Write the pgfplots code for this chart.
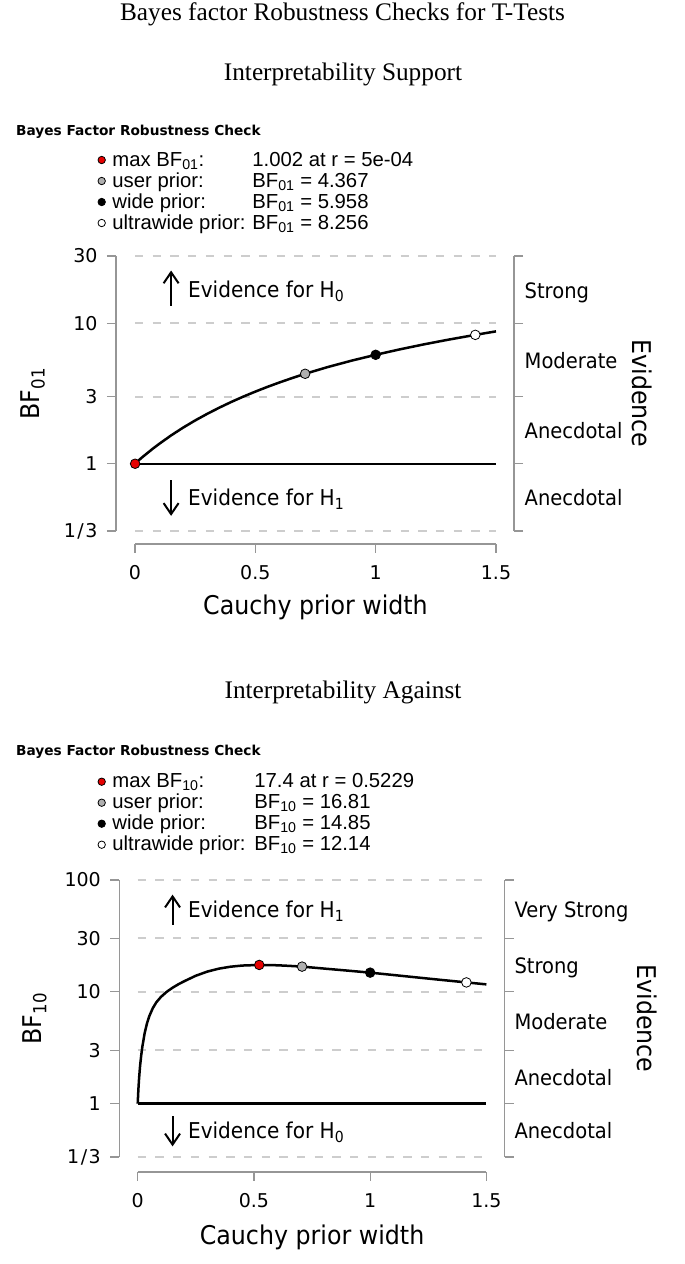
\documentclass[border=0pt]{standalone}
\usepackage{pgfplots}
\pgfplotsset{compat=1.18}
\usepackage{pgfplotstable}
\usepackage{fontspec}
\usetikzlibrary{arrows.meta}
\newfontfamily\djv[FakeStretch=0.92]{DejaVu Sans}
\newfontfamily\djvt{DejaVu Sans}
\newfontfamily\lib{Liberation Sans}
\newfontfamily\tnr{Liberation Serif}
\definecolor{gridgray}{RGB}{205,205,205}
\definecolor{axgray}{RGB}{150,150,150}
\definecolor{ptred}{RGB}{230,0,0}
\definecolor{ptgray}{RGB}{175,175,175}

\pgfplotstableread{
r bf
0 1.000
0.01 1.038
0.025 1.096
0.05 1.188
0.075 1.286
0.1 1.385
0.15 1.593
0.2 1.810
0.25 2.035
0.3 2.267
0.35 2.507
0.4 2.754
0.45 3.006
0.5 3.262
0.55 3.524
0.6 3.788
0.65 4.055
0.707 4.367
0.8 4.871
0.9 5.414
1.0 5.958
1.1 6.510
1.2 7.065
1.3 7.620
1.414 8.256
1.5 8.742
}\tabS

\pgfplotstableread{
r bf
0 1.00
0.003 1.345
0.006 1.69
0.01 2.15
0.015 2.69
0.02 3.23
0.03 4.28
0.04 5.23
0.05 6.07
0.065 7.15
0.08 8.05
0.1 9.01
0.125 10.01
0.15 10.885
0.175 11.685
0.2 12.435
0.25 13.935
0.3 15.185
0.35 16.135
0.4 16.785
0.45 17.185
0.5229 17.4
0.6 17.28
0.65 17.08
0.707 16.81
0.8 16.16
0.9 15.50
1.0 14.85
1.1 14.14
1.2 13.46
1.3 12.82
1.414 12.14
1.5 11.66
}\tabA

\newcommand\tickfont{\djvt\fontsize{19}{19}\selectfont}
\newcommand\labfont{\djv\fontsize{25.8}{27}\selectfont}
\newcommand\evfont{\djv\fontsize{21.8}{24}\selectfont}
\newcommand\bandfont{\djv\fontsize{21.2}{22}\selectfont}
\newcommand\legfont{\lib\fontsize{20.3}{21}\selectfont}
\newcommand\third{1\kern1.5pt/\kern1.5pt3}

\begin{document}
\begin{tikzpicture}[x=1pt,y=1pt]
\useasboundingbox (0,0) rectangle (685,-1264);

\node[anchor=base, font=\tnr\fontsize{25.3}{28}\selectfont] at (342.5,-20.7) {Bayes factor Robustness Checks for T-Tests};
\node[anchor=base, font=\tnr\fontsize{25.3}{28}\selectfont] at (343,-80) {Interpretability Support};
\node[anchor=base, font=\tnr\fontsize{25.3}{28}\selectfont] at (343,-698.3) {Interpretability Against};
\node[anchor=base west, inner sep=0pt, font=\djvt\bfseries\fontsize{13.7}{15}\selectfont] at (16,-135) {Bayes Factor Robustness Check};
\node[anchor=base west, inner sep=0pt, font=\djvt\bfseries\fontsize{13.7}{15}\selectfont] at (16,-755) {Bayes Factor Robustness Check};

% ---------------- top chart ----------------
\begin{axis}[at={(135pt,-531pt)}, anchor=south west, width=361pt, height=275pt,
  scale only axis, ymode=log, xmin=0, xmax=1.5, clip=false,
  ymin=0.33333, ymax=30, ytick={0.33333,1,3,10,30}, yticklabels={\third,1,3,10,30},
  xtick={0,0.5,1,1.5}, xticklabels={0,0.5,1,1.5},
  minor ytick={}, minor xtick={},
  axis x line=bottom, axis y line=left,
  axis x line shift=13pt, axis y line shift=19pt,
  tick align=outside, major tick length=9pt,
  axis line style={axgray, line width=1.2pt, -},
  tick style={axgray, line width=1.2pt},
  tick label style={font=\tickfont, black},
  yticklabel style={xshift=-6pt}, xticklabel style={yshift=-9pt},
  xlabel={Cauchy prior width}, ylabel={BF\textsubscript{01}},
  every axis label/.append style={font=\labfont},
  ylabel style={at={(axis description cs:-0.2825,0.5)}, anchor=center},
  xlabel style={at={(axis description cs:0.5,-0.276)}, anchor=center},
  ymajorgrids, grid style={gridgray, line width=2pt, dash pattern=on 8.3pt off 9.4pt},
  legend style={at={(axis description cs:-0.10249,1.38727)}, anchor=north west,
      draw=none, fill=none, inner sep=0pt, outer sep=0pt, row sep=0pt,
      column sep=7pt, font=\legfont,
      nodes={inner sep=0pt, text height=16.5pt, text depth=4.5pt}},
  legend cell align=left,
  legend image code/.code={\draw[mark size=3.7pt, line width=0.6pt] plot coordinates {(0pt,0pt)};},
]
\addplot[black, line width=2.5pt, line join=round, forget plot] table[x=r,y=bf]{\tabS};
\addplot[black, line width=2.5pt, forget plot] coordinates {(0,1) (1.5,1)};
\addplot[only marks, mark=*, mark size=4.8pt, mark options={fill=ptred, draw=black, line width=0.8pt}] coordinates {(0.0005,1.002)};
\addlegendentry{\makebox[140pt][l]{max BF\textsubscript{01}:}1.002 at r = 5e-04}
\addplot[only marks, mark=*, mark size=4.8pt, mark options={fill=ptgray, draw=black, line width=0.8pt}] coordinates {(0.707,4.367)};
\addlegendentry{\makebox[140pt][l]{user prior:}BF\textsubscript{01} = 4.367}
\addplot[only marks, mark=*, mark size=4.8pt, mark options={fill=black, draw=black, line width=0.8pt}] coordinates {(1,5.958)};
\addlegendentry{\makebox[140pt][l]{wide prior:}BF\textsubscript{01} = 5.958}
\addplot[only marks, mark=*, mark size=4.8pt, mark options={fill=white, draw=black, line width=0.8pt}] coordinates {(1.414,8.256)};
\addlegendentry{\makebox[140pt][l]{ultrawide prior:}BF\textsubscript{01} = 8.256}
\draw[line width=2pt, -{Straight Barb[length=11pt, width=15pt]}] (axis cs:0.15,13.34) -- (axis cs:0.15,23.66);
\node[anchor=base west, inner sep=0pt, font=\evfont, yshift=-8pt] at (axis cs:0.22,17.32) {Evidence for H\textsubscript{0}};
\draw[line width=2pt, -{Straight Barb[length=11pt, width=15pt]}] (axis cs:0.15,0.764) -- (axis cs:0.15,0.427);
\node[anchor=base west, inner sep=0pt, font=\evfont, yshift=-8pt] at (axis cs:0.22,0.57735) {Evidence for H\textsubscript{1}};
\end{axis}

\begin{axis}[at={(135pt,-531pt)}, anchor=south west, width=361pt, height=275pt,
  scale only axis, ymode=log, xmin=0, xmax=1.5, clip=false,
  ymin=0.33333, ymax=30, ytick={0.33333,1,3,10,30}, yticklabels={},
  minor ytick={}, axis x line=none, axis y line=right, axis y line shift=18pt,
  tick align=outside, major tick length=9pt,
  axis line style={axgray, line width=1.2pt, -},
  tick style={axgray, line width=1.2pt}]
\addplot[draw=none, forget plot] coordinates {(0,1)};
\node[anchor=base west, inner sep=0pt, font=\bandfont, yshift=-8.5pt] at (axis cs:1.6184,17.32) {Strong};
\node[anchor=base west, inner sep=0pt, font=\bandfont, yshift=-8.5pt] at (axis cs:1.6184,5.4772) {Moderate};
\node[anchor=base west, inner sep=0pt, font=\bandfont, yshift=-8.5pt] at (axis cs:1.6184,1.7321) {Anecdotal};
\node[anchor=base west, inner sep=0pt, font=\bandfont, yshift=-8.5pt] at (axis cs:1.6184,0.57735) {Anecdotal};
\node[rotate=-90, inner sep=0pt, font=\labfont] at (axis cs:2.1054,3.1623) {Evidence};
\end{axis}

% ---------------- bottom chart ----------------
\begin{axis}[at={(137.7pt,-1157pt)}, anchor=south west, width=348.7pt, height=277pt,
  scale only axis, ymode=log, xmin=0, xmax=1.5, clip=false,
  ymin=0.33333, ymax=100, ytick={0.33333,1,3,10,30,100}, yticklabels={\third,1,3,10,30,100},
  xtick={0,0.5,1,1.5}, xticklabels={0,0.5,1,1.5},
  minor ytick={}, minor xtick={},
  axis x line=bottom, axis y line=left,
  axis x line shift=15pt, axis y line shift=18.4pt,
  tick align=outside, major tick length=9pt,
  axis line style={axgray, line width=1.2pt, -},
  tick style={axgray, line width=1.2pt},
  tick label style={font=\tickfont, black},
  yticklabel style={xshift=-6pt}, xticklabel style={yshift=-9pt},
  xlabel={Cauchy prior width}, ylabel={BF\textsubscript{10}},
  every axis label/.append style={font=\labfont},
  ylabel style={at={(axis description cs:-0.2955,0.5)}, anchor=center},
  xlabel style={at={(axis description cs:0.5,-0.289)}, anchor=center},
  ymajorgrids, grid style={gridgray, line width=2pt, dash pattern=on 8.3pt off 9.4pt},
  legend style={at={(axis description cs:-0.11385,1.39278)}, anchor=north west,
      draw=none, fill=none, inner sep=0pt, outer sep=0pt, row sep=0pt,
      column sep=7pt, font=\legfont,
      nodes={inner sep=0pt, text height=16.5pt, text depth=4.5pt}},
  legend cell align=left,
  legend image code/.code={\draw[mark size=3.7pt, line width=0.6pt] plot coordinates {(0pt,0pt)};},
]
\addplot[black, line width=2.5pt, line join=round, forget plot] table[x=r,y=bf]{\tabA};
\addplot[black, line width=2.5pt, forget plot] coordinates {(0,1) (1.5,1)};
\addplot[only marks, mark=*, mark size=4.8pt, mark options={fill=ptred, draw=black, line width=0.8pt}] coordinates {(0.5229,17.4)};
\addlegendentry{\makebox[142pt][l]{max BF\textsubscript{10}:}17.4 at r = 0.5229}
\addplot[only marks, mark=*, mark size=4.8pt, mark options={fill=ptgray, draw=black, line width=0.8pt}] coordinates {(0.707,16.81)};
\addlegendentry{\makebox[142pt][l]{user prior:}BF\textsubscript{10} = 16.81}
\addplot[only marks, mark=*, mark size=4.8pt, mark options={fill=black, draw=black, line width=0.8pt}] coordinates {(1,14.85)};
\addlegendentry{\makebox[142pt][l]{wide prior:}BF\textsubscript{10} = 14.85}
\addplot[only marks, mark=*, mark size=4.8pt, mark options={fill=white, draw=black, line width=0.8pt}] coordinates {(1.414,12.14)};
\addlegendentry{\makebox[142pt][l]{ultrawide prior:}BF\textsubscript{10} = 12.14}
\draw[line width=2pt, -{Straight Barb[length=11pt, width=15pt]}] (axis cs:0.15,39.9) -- (axis cs:0.15,74);
\node[anchor=base west, inner sep=0pt, font=\evfont, yshift=-8pt] at (axis cs:0.216,54.772) {Evidence for H\textsubscript{1}};
\draw[line width=2pt, -{Straight Barb[length=11pt, width=15pt]}] (axis cs:0.15,0.77) -- (axis cs:0.15,0.415);
\node[anchor=base west, inner sep=0pt, font=\evfont, yshift=-8pt] at (axis cs:0.216,0.57735) {Evidence for H\textsubscript{0}};
\end{axis}

\begin{axis}[at={(137.7pt,-1157pt)}, anchor=south west, width=348.7pt, height=277pt,
  scale only axis, ymode=log, xmin=0, xmax=1.5, clip=false,
  ymin=0.33333, ymax=100, ytick={0.33333,1,3,10,30,100}, yticklabels={},
  minor ytick={}, axis x line=none, axis y line=right, axis y line shift=18.3pt,
  tick align=outside, major tick length=9pt,
  axis line style={axgray, line width=1.2pt, -},
  tick style={axgray, line width=1.2pt}]
\addplot[draw=none, forget plot] coordinates {(0,1)};
\node[anchor=base west, inner sep=0pt, font=\bandfont, yshift=-8.5pt] at (axis cs:1.62,54.772) {Very Strong};
\node[anchor=base west, inner sep=0pt, font=\bandfont, yshift=-8.5pt] at (axis cs:1.62,17.32) {Strong};
\node[anchor=base west, inner sep=0pt, font=\bandfont, yshift=-8.5pt] at (axis cs:1.62,5.4772) {Moderate};
\node[anchor=base west, inner sep=0pt, font=\bandfont, yshift=-8.5pt] at (axis cs:1.62,1.7321) {Anecdotal};
\node[anchor=base west, inner sep=0pt, font=\bandfont, yshift=-8.5pt] at (axis cs:1.62,0.57735) {Anecdotal};
\node[rotate=-90, inner sep=0pt, font=\labfont] at (axis cs:2.1908,5.774) {Evidence};
\end{axis}
\end{tikzpicture}
\end{document}
